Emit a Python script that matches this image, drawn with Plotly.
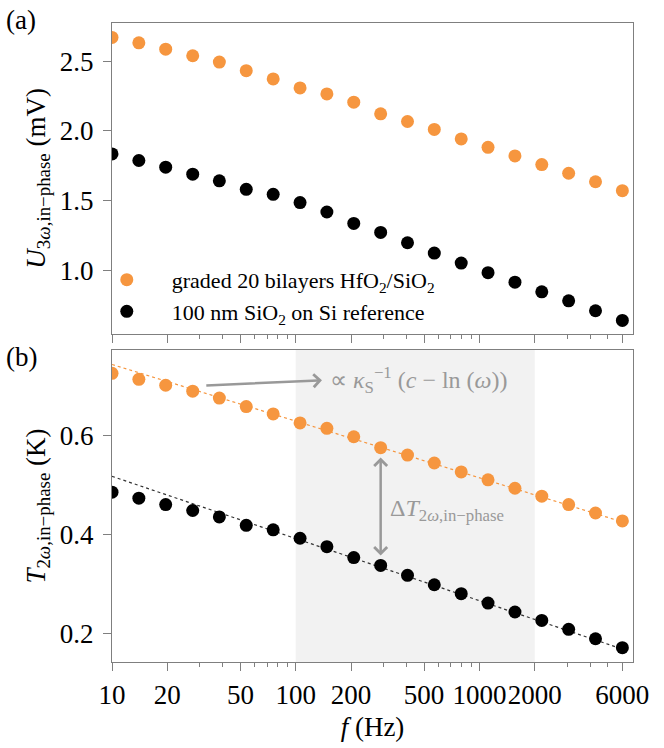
import math
import plotly.graph_objects as go

# Measurement frequencies (Hz), log-spaced sweep
freq_hz = [10, 14.0, 19.6, 27.5, 38.4, 53.8, 75.4, 105.6, 147.8, 207, 290, 406,
           568, 796, 1114, 1561, 2185, 3060, 4285, 6000]

# (a) in-phase 3-omega voltage (mV)
u3w_graded = [2.669, 2.630, 2.585, 2.538, 2.493, 2.431, 2.372, 2.308, 2.265, 2.206,
              2.123, 2.068, 2.011, 1.943, 1.883, 1.822, 1.760, 1.698, 1.637, 1.573]
u3w_ref = [1.836, 1.789, 1.741, 1.691, 1.644, 1.583, 1.547, 1.488, 1.421, 1.339,
           1.275, 1.201, 1.127, 1.056, 0.987, 0.919, 0.850, 0.786, 0.715, 0.646]

# (b) in-phase 2-omega temperature oscillation (K)
t2w_graded = [0.725, 0.713, 0.701, 0.689, 0.675, 0.658, 0.643, 0.625, 0.614, 0.597,
              0.575, 0.560, 0.544, 0.526, 0.510, 0.493, 0.477, 0.460, 0.443, 0.427]
t2w_ref = [0.485, 0.473, 0.460, 0.448, 0.435, 0.418, 0.409, 0.392, 0.375, 0.353,
           0.337, 0.317, 0.298, 0.280, 0.261, 0.243, 0.226, 0.208, 0.189, 0.171]

# Linear-in-ln(omega) fits, evaluated at the sweep limits
fit_freq = [10, 6000]
fit_graded = [0.743, 0.425]
fit_ref = [0.517, 0.168]

# Fit window (Hz)
fit_window = [100, 2000]

x_major = [10, 20, 50, 100, 200, 500, 1000, 2000, 6000]
x_minor = [30, 40, 60, 70, 80, 90, 300, 400, 600, 700, 800, 900, 3000, 4000, 5000]

ORANGE = "#f6963f"
BLACK = "#000000"
GRAY = "#999999"
FRAME = "#7f7f7f"
FONT = "Liberation Serif"

fig = go.Figure()

fig.add_trace(go.Scatter(x=freq_hz, y=u3w_graded, mode="markers", xaxis="x", yaxis="y",
                         marker=dict(color=ORANGE, size=13),
                         name="graded 20 bilayers HfO<sub>2</sub>/SiO<sub>2</sub>"))
fig.add_trace(go.Scatter(x=freq_hz, y=u3w_ref, mode="markers", xaxis="x", yaxis="y",
                         marker=dict(color=BLACK, size=13),
                         name="100 nm SiO<sub>2</sub> on Si reference"))

fig.add_trace(go.Scatter(x=fit_freq, y=fit_graded, mode="lines", xaxis="x2", yaxis="y2",
                         line=dict(color=ORANGE, width=1.2, dash="dot"), showlegend=False))
fig.add_trace(go.Scatter(x=fit_freq, y=fit_ref, mode="lines", xaxis="x2", yaxis="y2",
                         line=dict(color="#333333", width=1.2, dash="dot"), showlegend=False))
fig.add_trace(go.Scatter(x=freq_hz, y=t2w_graded, mode="markers", xaxis="x2", yaxis="y2",
                         marker=dict(color=ORANGE, size=13), showlegend=False))
fig.add_trace(go.Scatter(x=freq_hz, y=t2w_ref, mode="markers", xaxis="x2", yaxis="y2",
                         marker=dict(color=BLACK, size=13), showlegend=False))

x_range = [1, 3.836]
tickfont = dict(family=FONT, size=27, color="black")

xcommon = dict(type="log", range=x_range, tickvals=x_major,
               ticktext=[str(v) for v in x_major], ticks="outside", ticklen=8,
               tickwidth=1.2, tickcolor=FRAME, showline=True, linecolor=FRAME,
               linewidth=1.3, mirror=True, showgrid=False, zeroline=False,
               tickangle=0, tickfont=tickfont,
               minor=dict(tickvals=x_minor, ticks="outside", ticklen=4,
                          tickwidth=1, tickcolor=FRAME, showgrid=False))
ycommon = dict(ticks="outside", ticklen=8, tickwidth=1.2, tickcolor=FRAME,
               showline=True, linecolor=FRAME, linewidth=1.3, mirror=True,
               showgrid=False, zeroline=False, tickfont=tickfont, ticklabelstandoff=4)

fig.update_layout(
    width=664, height=748,
    margin=dict(l=112, r=31, t=23, b=83),
    paper_bgcolor="white", plot_bgcolor="white",
    font=dict(family=FONT, size=20, color="black"),
    xaxis=dict(xcommon, domain=[0, 1], anchor="y", showticklabels=False),
    xaxis2=dict(xcommon, domain=[0, 1], anchor="y2", matches="x",
                title=dict(text="<i>f</i> (Hz)", font=dict(family=FONT, size=27),
                           standoff=8)),
    yaxis=dict(ycommon, domain=[0.5138, 1], range=[0.551, 2.772],
               tickvals=[1.0, 1.5, 2.0, 2.5], ticktext=["1.0", "1.5", "2.0", "2.5"],
               title=dict(text="<i>U</i><sub>3<i>ω</i>,in−phase</sub> (mV)",
                          font=dict(family=FONT, size=27), standoff=6)),
    yaxis2=dict(ycommon, domain=[0, 0.4881], range=[0.142, 0.772],
                tickvals=[0.2, 0.4, 0.6], ticktext=["0.2", "0.4", "0.6"],
                title=dict(text="<i>T</i><sub>2<i>ω</i>,in−phase</sub> (K)",
                           font=dict(family=FONT, size=27), standoff=6)),
    legend=dict(x=-0.058, y=0.515, xanchor="left", yanchor="bottom",
                bgcolor="rgba(0,0,0,0)", font=dict(family=FONT, size=22),
                itemwidth=80, tracegroupgap=0),
    showlegend=True,
)

# Shaded fit window in panel (b)
fig.add_shape(type="rect", xref="x2", yref="y2 domain", x0=fit_window[0], x1=fit_window[1],
              y0=0, y1=1, fillcolor="#f2f2f2", line=dict(width=0), layer="below")

lg = math.log10
annotations = [
    # panel tags
    dict(text="(a)", xref="paper", yref="paper", x=-0.208, y=1.005, xanchor="left",
         yanchor="middle", showarrow=False, font=dict(family=FONT, size=27)),
    dict(text="(b)", xref="paper", yref="paper", x=-0.208, y=0.478, xanchor="left",
         yanchor="middle", showarrow=False, font=dict(family=FONT, size=27)),
    # slope arrow
    dict(text="", xref="x2", yref="y2", x=lg(139), y=0.711,
         axref="x2", ayref="y2", ax=lg(32), ay=0.7005, showarrow=True,
         arrowhead=4, arrowsize=1, arrowwidth=2.5, arrowcolor=GRAY, standoff=0),
    dict(text="∝ <i>κ</i><sub>S</sub><sup>−1</sup> (<i>c</i> − ln (<i>ω</i>))",
         xref="x2", yref="y2", x=lg(150), y=0.712, xanchor="left", yanchor="middle",
         showarrow=False, font=dict(family=FONT, size=24, color=GRAY)),
    # temperature difference arrow
    dict(text="", xref="x2", yref="y2", x=lg(290), y=0.555,
         axref="x2", ayref="y2", ax=lg(290), ay=0.354, showarrow=True,
         arrowhead=4, startarrowhead=4, arrowside="end+start", arrowsize=1,
         startarrowsize=1, arrowwidth=2.5, arrowcolor=GRAY, standoff=0, startstandoff=0),
    dict(text="Δ<i>T</i><sub>2<i>ω</i>,in−phase</sub>", xref="x2", yref="y2",
         x=lg(318), y=0.45, xanchor="left", yanchor="middle", showarrow=False,
         font=dict(family=FONT, size=24, color=GRAY)),
]
fig.update_layout(annotations=annotations)

fig.write_html("out.html")
